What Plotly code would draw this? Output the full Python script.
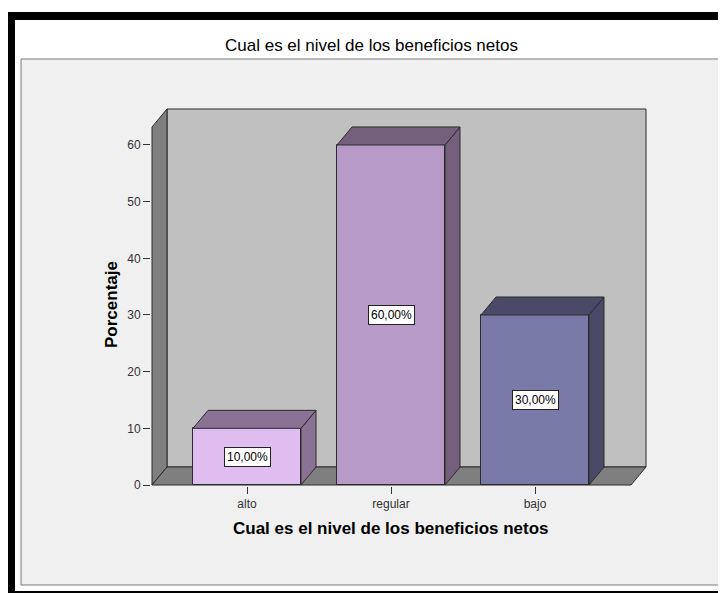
import plotly.graph_objects as go

# ---- data ----
categories = ["alto", "regular", "bajo"]
percentages = [10.0, 60.0, 30.0]
y_tick_values = [0, 10, 20, 30, 40, 50, 60]
chart_title = "Cual es el nivel de los beneficios netos"
x_title = "Cual es el nivel de los beneficios netos"
y_title = "Porcentaje"

# ---- style ----
front_colors = ["#dfbdf1", "#b89ac8", "#7a7aa9"]
shade_colors = ["#8a7294", "#74607c", "#4a4a68"]
FONT = "Liberation Sans, Arial, sans-serif"

OFF = 8  # page body margin offset
W, H = 726 - OFF, 593 - OFF
SX, SY = 144.0, 5.667               # px per category / px per percent
X_ZERO_PX, Y_ZERO_PX = 247 - OFF, 485 - OFF  # pixel of x=0 / y=0 (figure coords)
L, R, T, B = 151 - OFF, 78, 106 - OFF, 107
x_range = [(L - X_ZERO_PX) / SX, (W - R - X_ZERO_PX) / SX]
y_range = [(Y_ZERO_PX - (H - B)) / SY, (Y_ZERO_PX - T) / SY]

X0 = (152 - OFF - X_ZERO_PX) / SX   # front-left of floor
XF = (631 - OFF - X_ZERO_PX) / SX   # front-right of floor
DX, DY = 15 / SX, 18 / SY           # depth offset
YMAX = (Y_ZERO_PX - (127 - OFF)) / SY  # front top of side wall
BAR_W = 0.75
EDGE = "#2b2b2b"

PW, PH = W - L - R, H - T - B


def fx(px):
    """reference-pixel x -> paper fraction"""
    return (px - OFF - L) / PW


def fy(py):
    """reference-pixel y -> paper fraction"""
    return (H - B - (py - OFF)) / PH


xs = list(range(len(categories)))

fig = go.Figure()

# front faces of bars
fig.add_trace(go.Bar(
    x=xs, y=percentages, width=BAR_W,
    marker=dict(color=front_colors, line=dict(color=EDGE, width=1)),
    hoverinfo="skip", showlegend=False,
))

# 3D top and side faces computed from the values
for i, v in enumerate(percentages):
    xl, xr = i - BAR_W / 2, i + BAR_W / 2
    fig.add_trace(go.Scatter(
        x=[xr, xr + DX, xr + DX, xr, xr],
        y=[0, DY, v + DY, v, 0],
        fill="toself", fillcolor=shade_colors[i], mode="lines",
        line=dict(color=EDGE, width=1), hoverinfo="skip", showlegend=False,
    ))
    fig.add_trace(go.Scatter(
        x=[xl, xl + DX, xr + DX, xr, xl],
        y=[v, v + DY, v + DY, v, v],
        fill="toself", fillcolor=shade_colors[i], mode="lines",
        line=dict(color=EDGE, width=1), hoverinfo="skip", showlegend=False,
    ))

shapes = [
    dict(type="rect", xref="paper", yref="paper", x0=fx(7), x1=fx(760),
         y0=fy(12), y1=fy(620), fillcolor="black", line=dict(width=0), layer="below"),
    dict(type="rect", xref="paper", yref="paper", x0=fx(15), x1=fx(760),
         y0=fy(20), y1=fy(591), fillcolor="white", line=dict(width=0), layer="below"),
    dict(type="rect", xref="paper", yref="paper", x0=fx(21), x1=fx(721),
         y0=fy(59), y1=fy(585), fillcolor="#f0f0f0", line=dict(color="#7a7a7a", width=1), layer="below"),
    dict(type="rect", xref="x", yref="y", x0=X0 + DX, x1=XF + DX, y0=DY, y1=YMAX + DY,
         fillcolor="#c0c0c0", line=dict(color=EDGE, width=1), layer="below"),
    dict(type="path", xref="x", yref="y",
         path=f"M {X0},0 L {X0 + DX},{DY} L {X0 + DX},{YMAX + DY} L {X0},{YMAX} Z",
         fillcolor="#7f7f7f", line=dict(color=EDGE, width=1), layer="below"),
    dict(type="path", xref="x", yref="y",
         path=f"M {X0},0 L {X0 + DX},{DY} L {XF + DX},{DY} L {XF},0 Z",
         fillcolor="#7f7f7f", line=dict(color=EDGE, width=1), layer="below"),
]

annotations = []
for i, v in enumerate(percentages):
    annotations.append(dict(
        x=i, y=v / 2, xref="x", yref="y", showarrow=False,
        text=f"{v:.2f}".replace(".", ",") + "%",
        font=dict(family=FONT, size=12, color="black"),
        bgcolor="white", bordercolor="#222", borderwidth=1, borderpad=2,
    ))

annotations += [
    dict(x=fx(371), y=fy(46), xref="paper", yref="paper", showarrow=False,
         text=chart_title, font=dict(family=FONT, size=17, color="black"),
         xanchor="center", yanchor="middle"),
    dict(x=fx(391), y=fy(528), xref="paper", yref="paper", showarrow=False,
         text=f"<b>{x_title}</b>", font=dict(family=FONT, size=17, color="black"),
         xanchor="center", yanchor="middle"),
    dict(x=fx(111), y=fy(305), xref="paper", yref="paper", showarrow=False,
         text=f"<b>{y_title}</b>", textangle=-90,
         font=dict(family=FONT, size=17, color="black"),
         xanchor="center", yanchor="middle"),
]

fig.update_layout(
    width=W, height=H, autosize=False,
    margin=dict(l=L, r=R, t=T, b=B, pad=0),
    paper_bgcolor="white", plot_bgcolor="rgba(0,0,0,0)",
    shapes=shapes, annotations=annotations,
    showlegend=False, bargap=0,
    font=dict(family=FONT),
)
fig.update_xaxes(
    range=x_range, tickvals=xs, ticktext=categories,
    showgrid=False, zeroline=False, showline=False,
    ticks="outside", ticklen=7, tickcolor="#333", tickwidth=1,
    tickfont=dict(family=FONT, size=12, color="#333"), fixedrange=True,
)
fig.update_yaxes(
    range=y_range, tickvals=y_tick_values,
    showgrid=False, zeroline=False, showline=False,
    ticks="outside", ticklen=7, tickcolor="#333", tickwidth=1,
    tickfont=dict(family=FONT, size=12, color="#333"), fixedrange=True,
)

fig.write_html("out.html")
